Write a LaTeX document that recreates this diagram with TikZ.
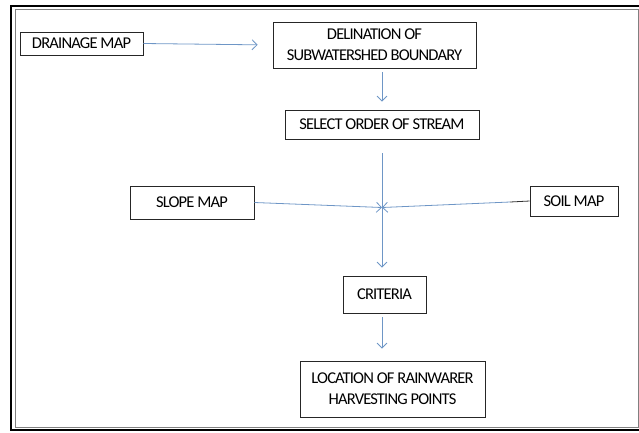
\documentclass[tikz,border=0pt]{standalone}
\usepackage{fontspec}
\setmainfont{Carlito}[LetterSpace=-5]
\usetikzlibrary{arrows.meta}
\definecolor{flowblue}{RGB}{110,150,198}

\begin{document}
\begin{tikzpicture}[x=1pt, y=-1pt,
        box/.style={draw=black!85, line width=0.8pt, inner sep=2pt, align=center,
                    font=\fontsize{16.5}{21}\selectfont},
        flow/.style={flowblue, line width=0.8pt, -{Straight Barb[length=5pt, width=10pt]}},
        link/.style={flowblue, line width=0.8pt}]
        \useasboundingbox (0,0) rectangle (639,432);
        % double frame
        \draw[line width=2pt, black] (11,6) rectangle (648,430);
        \draw[line width=0.9pt, gray] (15,9) rectangle (638,427);
        % boxes
        \node[box, minimum width=123pt, minimum height=23pt] (drain) at (81.5,43.5) {DRAINAGE MAP};
        \node[box, minimum width=203pt, minimum height=46pt] (delin) at (374.5,45) {DELINATION OF\\SUBWATERSHED BOUNDARY};
        \node[box, minimum width=194pt, minimum height=29pt] (select) at (382,124.5) {SELECT ORDER OF STREAM};
        \node[box, minimum width=124pt, minimum height=33pt] (slope) at (192,202.5) {SLOPE MAP};
        \node[box, minimum width=88pt, minimum height=30pt] (soil) at (574,201) {SOIL MAP};
        \node[box, minimum width=83pt, minimum height=37pt] (crit) at (384.5,294.5) {CRITERIA};
        \node[box, minimum width=185pt, minimum height=56pt] (loc) at (392.5,389) {LOCATION OF RAINWARER\\HARVESTING POINTS};
        \coordinate (hub) at (382,207.5);
        \coordinate (tick) at (510,202);
        % connectors
        \draw[flow, shorten >=15pt] (drain.east) -- (delin.west);
        \draw[flow] ([yshift=-4pt]delin.south -| select) -- ([yshift=8pt]select.north);
        \draw[link] ([yshift=-14pt]select.south -| hub) -- (hub);
        \draw[flow] (hub) -- ([yshift=8pt]crit.north -| hub);
        \draw[flow] (slope.east) -- (hub);
        \draw[line width=0.8pt, black!80] (soil.west) -- (tick);
        \draw[flow] (tick) -- (hub);
        \draw[flow] ([yshift=-4pt]crit.south -| hub) -- ([yshift=12pt]loc.north -| hub);
\end{tikzpicture}
\end{document}
